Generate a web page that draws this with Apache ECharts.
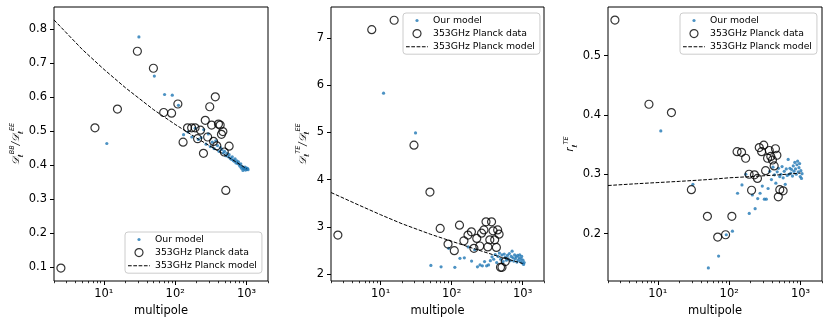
<!DOCTYPE html>
<html><head><meta charset="utf-8">
<script src="https://cdn.jsdelivr.net/npm/echarts@6/dist/echarts.min.js"></script>
<style>html,body{margin:0;padding:0;background:#fff}#c{width:830px;height:326px}</style>
</head><body><div id="c"></div>
<script>
// ---------------- data ----------------
const xTickValues = [10, 100, 1000];
const xTickLabels = ['10\u00B9', '10\u00B2', '10\u00B3'];
const xMinorTicks = [2,3,4,5,6,7,8,9,20,30,40,50,60,70,80,90,200,300,400,500,600,700,800,900,2000];

const yTicksBB = [0.1,0.2,0.3,0.4,0.5,0.6,0.7,0.8];
const yTicksTE = [2,3,4,5,6,7];
const yTicksR  = [0.2,0.3,0.4,0.5];

const seriesNames = ['Our model', '353GHz Planck data', '353GHz Planck model'];

// "Our model" multipole bins
const modelL = [11,31,51,71,91,111,131,151,171,191,211,231,251,271,291,311,331,351,371,391,411,431,451,471,491,511,531,551,571,591,611,631,651,671,691,711,731,751,771,791,811,831,851,871,891,911,931,951,971,991,1011,1031,1051];
const modelBB = [0.464,0.777,0.662,0.608,0.606,0.576,0.490,0.498,0.483,0.509,0.476,0.481,0.505,0.462,0.492,0.455,0.468,0.449,0.472,0.458,0.441,0.452,0.446,0.436,0.441,0.428,0.435,0.425,0.431,0.421,0.418,0.425,0.415,0.412,0.419,0.407,0.413,0.405,0.410,0.402,0.397,0.404,0.391,0.396,0.385,0.392,0.389,0.395,0.386,0.392,0.388,0.391,0.387];
const modelTE = [5.83,4.99,2.19,2.16,2.55,2.15,2.34,2.35,2.58,2.28,2.52,2.16,2.20,2.18,2.27,2.18,2.20,2.29,2.37,2.32,2.42,2.25,2.38,2.45,2.32,2.41,2.27,2.43,2.36,2.30,2.40,2.33,2.44,2.29,2.38,2.49,2.35,2.28,2.41,2.33,2.37,2.26,2.40,2.30,2.35,2.41,2.27,2.33,2.38,2.24,2.30,2.21,2.25];
const modelR  = [0.373,0.283,0.142,0.162,0.198,0.204,0.268,0.282,0.300,0.234,0.265,0.242,0.259,0.268,0.280,0.258,0.258,0.276,0.305,0.291,0.312,0.299,0.285,0.304,0.310,0.296,0.300,0.313,0.294,0.305,0.283,0.309,0.298,0.325,0.300,0.310,0.302,0.308,0.297,0.314,0.305,0.320,0.309,0.300,0.316,0.322,0.304,0.311,0.318,0.296,0.306,0.293,0.301];

// 353GHz Planck data bins
const planckL  = [2.5,7.5,15.5,29.5,49.5,69,89,109,129,149,170,190,206,226,249,264,285,305,324,345,365,383,404,427,445,466,488,512,570];
const planckBB = [0.098,0.51,0.565,0.735,0.685,0.555,0.553,0.58,0.468,0.51,0.51,0.51,0.478,0.503,0.435,0.532,0.483,0.572,0.518,0.47,0.601,0.457,0.521,0.518,0.491,0.499,0.439,0.326,0.456];
const planckTE = [2.83,7.17,7.37,4.73,3.74,2.97,2.64,2.5,3.04,2.71,2.83,2.9,2.55,2.76,2.6,2.87,2.94,3.11,2.58,2.73,3.11,2.92,2.73,2.57,2.94,2.85,2.15,2.15,2.27];
const planckR  = [0.56,0.418,0.404,0.274,0.229,0.194,0.198,0.229,0.338,0.337,0.327,0.3,0.273,0.299,0.293,0.345,0.338,0.349,0.306,0.327,0.34,0.33,0.324,0.314,0.343,0.332,0.262,0.274,0.272];

// 353GHz Planck model curve
const fitL  = [2,5,10,20,50,100,200,500,1000];
const fitBB = [0.827,0.74,0.682,0.628,0.563,0.52,0.48,0.43,0.39];
const fitTE = [3.73,3.46,3.26,3.07,2.85,2.70,2.55,2.36,2.23];
const fitR  = [0.281,0.284,0.286,0.288,0.291,0.294,0.296,0.299,0.302];

// ---------------- chart ----------------
const FONT = 'DejaVu Sans';
const zip = (a, b) => a.map((v, i) => [v, b[i]]);

const panels = [
  {left:54, width:214, ymin:0.06, ymax:0.865, yticks:yTicksBB, fmt:v=>v.toFixed(1),
   name:'{d|\uD835\uDC9F}{s|\u2113}{p|BB}{d|/\uD835\uDC9F}{s|\u2113}{p|EE}', nameGap:28,
   model:modelBB, planck:planckBB, fit:fitBB, legend:{left:125, top:232}},
  {left:331, width:213, ymin:1.86, ymax:7.65, yticks:yTicksTE, fmt:v=>String(Math.round(v)),
   name:'{d|\uD835\uDC9F}{s|\u2113}{p|TE}{d|/\uD835\uDC9F}{s|\u2113}{p|EE}', nameGap:20,
   model:modelTE, planck:planckTE, fit:fitTE, legend:{left:403, top:13}},
  {left:608, width:214, ymin:0.12, ymax:0.582, yticks:yTicksR, fmt:v=>v.toFixed(1),
   name:'{i|r}{s|\u2113}{p|TE}', nameGap:28,
   model:modelR, planck:planckR, fit:fitR, legend:{left:680, top:13}}
];

const dotIcon = 'path://M0,0M22,8M9.4,4a1.6,1.6 0 1,0 3.2,0a1.6,1.6 0 1,0 -3.2,0z';
const dashIcon = 'path://M0,0M22,8M0,3.5h3.7v1h-3.7zM5.3,3.5h3.7v1h-3.7zM10.6,3.5h3.7v1h-3.7zM15.9,3.5h3.7v1h-3.7zM21.2,3.5h0.8v1h-0.8z';

const grid = [], xAxis = [], yAxis = [], series = [], legend = [];
const nameRich = {
  d:{fontFamily:FONT, fontSize:10, fontStyle:'italic', color:'#000', lineHeight:16, verticalAlign:'middle'},
  i:{fontFamily:FONT, fontSize:10, fontStyle:'italic', color:'#000', lineHeight:16, verticalAlign:'middle'},
  s:{fontFamily:FONT, fontSize:7, fontStyle:'italic', color:'#000', lineHeight:8, verticalAlign:'bottom'},
  p:{fontFamily:FONT, fontSize:6.5, fontStyle:'italic', color:'#000', lineHeight:8, verticalAlign:'top'}
};

panels.forEach((p, i) => {
  grid.push({left:p.left, top:7, width:p.width, height:274, show:true, borderColor:'#000', borderWidth:1, backgroundColor:'transparent', containLabel:false});
  xAxis.push({
    type:'log', logBase:10, gridIndex:i, min:2, max:2000, position:'bottom',
    axisLine:{show:false}, splitLine:{show:false},
    axisTick:{show:true, length:4, lineStyle:{color:'#000', width:1}, customValues:xTickValues},
    axisLabel:{customValues:xTickValues, color:'#000', fontFamily:FONT, fontSize:11.5, margin:7,
      formatter:v => { const k = xTickValues.findIndex(t => Math.abs(t - v) / t < 1e-6); return k >= 0 ? xTickLabels[k] : ''; }},
    name:'multipole', nameLocation:'middle', nameGap:24,
    nameTextStyle:{color:'#000', fontFamily:FONT, fontSize:11.5}
  });
  xAxis.push({
    type:'log', logBase:10, gridIndex:i, min:2, max:2000, position:'bottom',
    axisLine:{show:false}, splitLine:{show:false},
    axisTick:{show:true, length:2.2, lineStyle:{color:'#000', width:0.8}, customValues:xMinorTicks},
    axisLabel:{show:false}
  });
  yAxis.push({
    type:'value', gridIndex:i, min:p.ymin, max:p.ymax,
    axisLine:{show:false}, splitLine:{show:false},
    axisTick:{show:true, length:4, lineStyle:{color:'#000', width:1}, customValues:p.yticks},
    axisLabel:{customValues:p.yticks, color:'#000', fontFamily:FONT, fontSize:11.5, margin:7, formatter:p.fmt},
    name:p.name, nameLocation:'middle', nameRotate:90, nameGap:p.nameGap,
    nameTextStyle:{rich:nameRich}
  });
  series.push({
    name:seriesNames[0], type:'scatter', xAxisIndex:2*i, yAxisIndex:i, z:2,
    data:zip(modelL, p.model), symbol:'circle', symbolSize:3.2,
    itemStyle:{color:'#1f77b4'}
  });
  series.push({
    name:seriesNames[1], type:'scatter', xAxisIndex:2*i, yAxisIndex:i, z:3,
    data:zip(planckL, p.planck), symbol:'circle', symbolSize:8,
    itemStyle:{color:'rgba(0,0,0,0)', borderColor:'#000', borderWidth:1.2}
  });
  series.push({
    name:seriesNames[2], type:'line', xAxisIndex:2*i, yAxisIndex:i, z:4,
    data:zip(fitL, p.fit), symbol:'none', showSymbol:false,
    lineStyle:{color:'#000', width:1, type:[3.7,1.6]}
  });
  legend.push({
    left:p.legend.left, top:p.legend.top, orient:'vertical',
    itemWidth:22, itemHeight:8, itemGap:4, padding:[3,5,3,3],
    borderColor:'#cccccc', borderWidth:1, borderRadius:3, backgroundColor:'rgba(255,255,255,0.8)',
    selectedMode:false,
    textStyle:{fontFamily:FONT, fontSize:9.3, color:'#000'},
    data:[
      {name:seriesNames[0], icon:dotIcon, itemStyle:{color:'#1f77b4'}},
      {name:seriesNames[1], icon:'circle', itemStyle:{color:'rgba(0,0,0,0)', borderColor:'#000', borderWidth:1.2}},
      {name:seriesNames[2], icon:dashIcon, itemStyle:{color:'#000'}}
    ]
  });
});

const chart = echarts.init(document.getElementById('c'), null, {renderer:'canvas'});
chart.setOption({animation:false, backgroundColor:'#fff', grid, xAxis, yAxis, series, legend});
</script>
</body></html>
